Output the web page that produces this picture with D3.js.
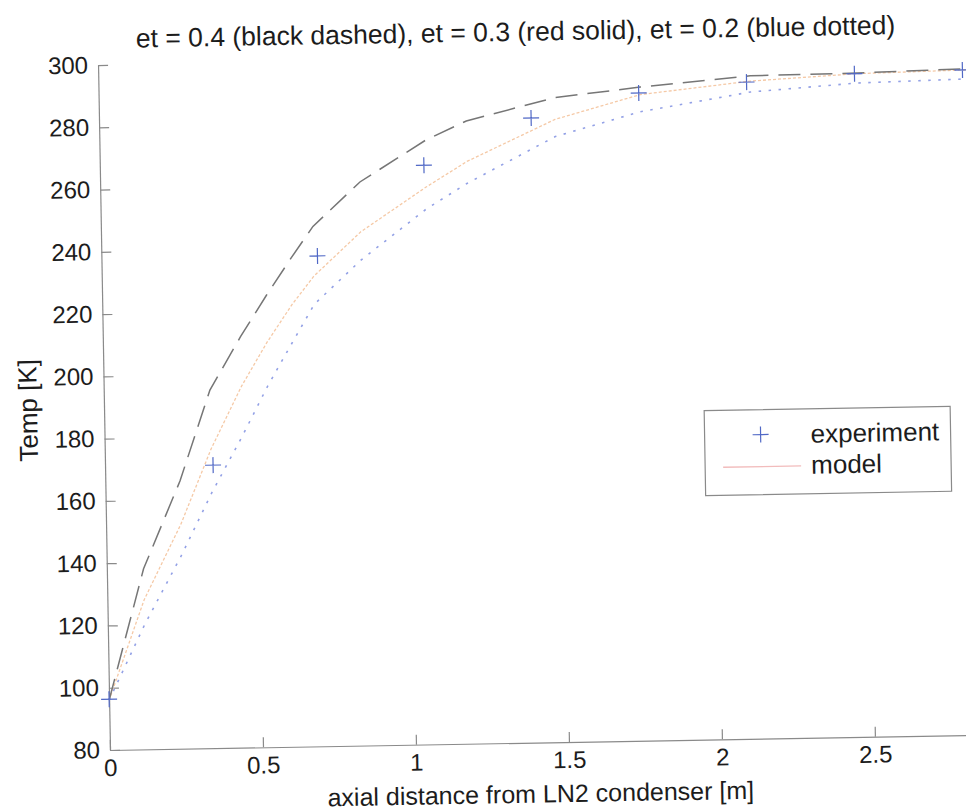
<!DOCTYPE html>
<html>
<head>
<meta charset="utf-8">
<script src="https://cdn.jsdelivr.net/npm/d3@7"></script>
<style>
  body { margin: 0; background: #fff; }
  text { font-family: "Liberation Sans", Arial, sans-serif; fill: #1c1c1c; }
</style>
</head>
<body>
<svg id="chart" width="966" height="812"></svg>
<script>
// Measured temperatures along the line
const distance   = [0, 0.353, 0.706, 1.059, 1.412, 1.765, 2.118, 2.471, 2.824];
const experiment = [96.3, 170.9, 237.5, 266, 280.6, 288, 290.9, 293, 293.6];

// Model runs for three emissivities
const modelX = [0, 0.12, 0.244, 0.347, 0.45, 0.536, 0.62, 0.693, 0.849, 1.065, 1.2, 1.49, 1.77, 2.13, 2.48, 2.84, 3.0];
const et04   = [96, 138, 166, 195, 212, 225, 237, 247, 261, 274, 280, 287, 289.9, 292.9, 293.2, 294, 294.2];
const et03   = [96, 128, 152, 176, 196, 210, 222, 231, 245, 259, 267, 280, 287.5, 291.2, 293, 293.6, 293.8];
const et02   = [96, 120, 142, 162, 180, 196, 210, 222, 236, 252, 260, 274.5, 282, 287.7, 290, 290.7, 290.9];

const xTicks = [0, 0.5, 1, 1.5, 2, 2.5];
const yTicks = [80, 100, 120, 140, 160, 180, 200, 220, 240, 260, 280, 300];

const titleText  = "et = 0.4 (black dashed), et = 0.3 (red solid), et = 0.2 (blue dotted)";
const xLabelText = "axial distance from LN2 condenser [m]";
const yLabelText = "Temp [K]";
const legendLabels = ["experiment", "model"];

const plotLeft = 110, plotBottom = 750, plotTop = 65;
const x = d3.scaleLinear().domain([0, 3]).range([plotLeft, plotLeft + 3 * 306]);
const y = d3.scaleLinear().domain([80, 300]).range([plotBottom, plotTop]);

const svg = d3.select("#chart");
// the whole figure sits at a slight counter-clockwise tilt
const g = svg.append("g").attr("transform", `rotate(-1, ${plotLeft}, ${plotBottom})`);

const axisColor = "#8a8a8a";
const inkColor = "#1c1c1c";

// x axis
const xAxis = g.append("g").attr("transform", `translate(0,${plotBottom})`)
  .call(d3.axisBottom(x).tickValues(xTicks).tickSizeInner(-10).tickSizeOuter(0).tickPadding(9)
        .tickFormat(d3.format("~g")));
xAxis.select(".domain").attr("stroke", axisColor).attr("stroke-width", 1.2);
xAxis.selectAll(".tick line").attr("stroke", axisColor).attr("stroke-width", 1.2);
xAxis.selectAll(".tick text").attr("font-size", 24).attr("fill", inkColor)
  .style("font-family", "'Liberation Sans', Arial, sans-serif");

// y axis
const yAxis = g.append("g").attr("transform", `translate(${plotLeft},0)`)
  .call(d3.axisLeft(y).tickValues(yTicks).tickSizeInner(-10).tickSizeOuter(0).tickPadding(10));
yAxis.select(".domain").attr("stroke", axisColor).attr("stroke-width", 1.2);
yAxis.selectAll(".tick line").attr("stroke", axisColor).attr("stroke-width", 1.2);
yAxis.selectAll(".tick text").attr("font-size", 24).attr("fill", inkColor)
  .style("font-family", "'Liberation Sans', Arial, sans-serif");

// model curves
const line = d3.line().x((d, i) => x(modelX[i])).y(d => y(d));
g.append("path").datum(et03).attr("d", line)
  .attr("fill", "none").attr("stroke", "#f5c9a6").attr("stroke-width", 1.3)
  .attr("stroke-dasharray", "3,2");
g.append("path").datum(et04).attr("d", line)
  .attr("fill", "none").attr("stroke", "#767676").attr("stroke-width", 1.5)
  .attr("stroke-dasharray", "22,10");
g.append("path").datum(et02).attr("d", line)
  .attr("fill", "none").attr("stroke", "#93a1e6").attr("stroke-width", 1.6)
  .attr("stroke-dasharray", "2.5,7.5");

// experimental points as plus markers
const arm = 8;
const crossPath = (cx, cy) => `M${cx - arm},${cy}H${cx + arm}M${cx},${cy - arm}V${cy + arm}`;
g.append("g").selectAll("path").data(experiment).join("path")
  .attr("d", (d, i) => crossPath(x(distance[i]), y(d)))
  .attr("stroke", "#5068c6").attr("stroke-width", 1.2).attr("fill", "none");

// title and axis labels
g.append("text").attr("x", 528).attr("y", 48).attr("text-anchor", "middle")
  .attr("font-size", 26.5).text(titleText);
g.append("text").attr("x", 540).attr("y", 810).attr("text-anchor", "middle")
  .attr("font-size", 25).text(xLabelText);
g.append("text").attr("transform", "translate(43,409) rotate(-90)").attr("text-anchor", "middle")
  .attr("font-size", 26).text(yLabelText);

// legend
const lg = g.append("g").attr("transform", "translate(710,421)");
lg.append("rect").attr("width", 246).attr("height", 85)
  .attr("fill", "#fff").attr("stroke", "#8a8a8a").attr("stroke-width", 1.2);
lg.append("path").attr("d", crossPath(56, 25))
  .attr("stroke", "#5068c6").attr("stroke-width", 1.2);
lg.append("line").attr("x1", 18).attr("x2", 96).attr("y1", 57).attr("y2", 57)
  .attr("stroke", "#f2bcbc").attr("stroke-width", 1.3);
lg.selectAll("text.lab").data(legendLabels).join("text").attr("class", "lab")
  .attr("x", 106).attr("y", (d, i) => 34 + i * 31)
  .attr("font-size", 26).text(d => d);
</script>
</body>
</html>
